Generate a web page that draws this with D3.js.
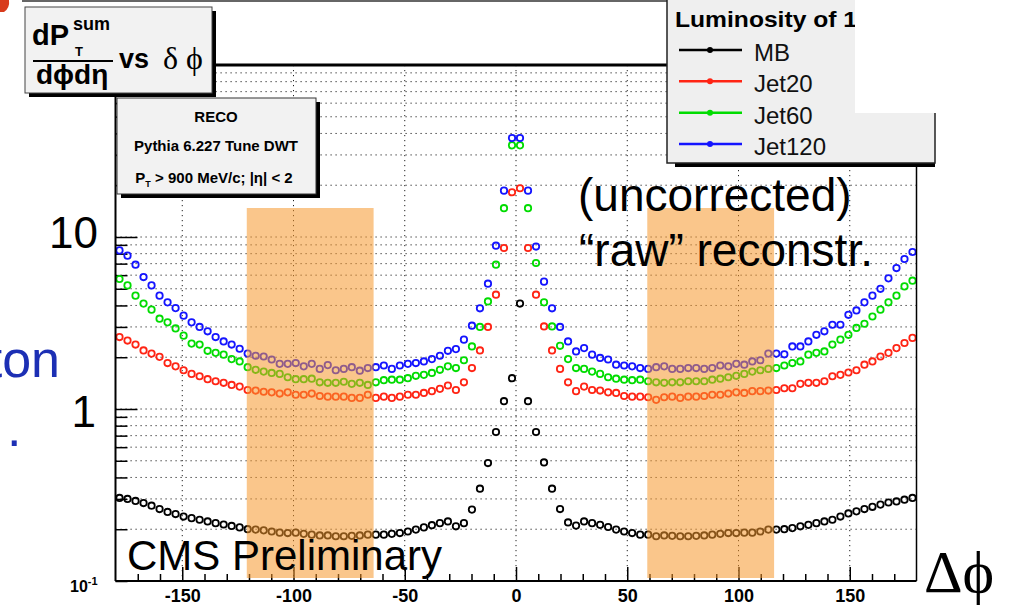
<!DOCTYPE html>
<html lang="en">
<head>
<meta charset="UTF-8">
<title>dPT sum vs delta phi</title>
<script src="https://cdn.jsdelivr.net/npm/d3@7"></script>
<style>
  body { margin: 0; background: #fff; }
  svg { display: block; font-family: Arial, "Liberation Sans", sans-serif; }
  .grid line { stroke: #222; stroke-width: 1; stroke-dasharray: 1.2,3.8; }
  .axis path { display: none; }
  .axis line { stroke: #000; stroke-width: 1.5; }
  .axis text { font-family: Arial, "Liberation Sans", sans-serif; }
</style>
</head>
<body>
<svg id="chart" width="1010" height="605"></svg>
<script>
// series, legend order
const seriesNames = ["MB", "Jet20", "Jet60", "Jet120"];
const seriesColors = ["#000000", "#ff2414", "#00dc00", "#1414ff"];

// 100 bins of 3.6 deg, centres -178.2 ... 178.2
const phiBins = d3.range(100).map(i => -178.2 + 3.6 * i);

const mbVals = [
  0.304, 0.300, 0.292, 0.284, 0.274, 0.262, 0.252, 0.245, 0.237, 0.232,
  0.227, 0.222, 0.217, 0.213, 0.209, 0.205, 0.200, 0.199, 0.197, 0.194,
  0.191, 0.190, 0.191, 0.188, 0.186, 0.184, 0.184, 0.182, 0.182, 0.183,
  0.184, 0.186, 0.186, 0.186, 0.188, 0.190, 0.194, 0.199, 0.205, 0.211,
  0.217, 0.222, 0.208, 0.217, 0.260, 0.344, 0.485, 0.735, 1.11, 1.51,
  4.10, 1.11, 0.735, 0.489, 0.344, 0.262, 0.219, 0.210, 0.222, 0.217,
  0.212, 0.206, 0.199, 0.194, 0.190, 0.186, 0.186, 0.182, 0.184, 0.183,
  0.182, 0.182, 0.183, 0.184, 0.186, 0.188, 0.190, 0.190, 0.191, 0.191,
  0.194, 0.199, 0.199, 0.200, 0.203, 0.208, 0.212, 0.217, 0.222, 0.227,
  0.237, 0.247, 0.254, 0.262, 0.270, 0.278, 0.286, 0.290, 0.297, 0.304
];
const jet20Vals = [
  2.62, 2.50, 2.37, 2.19, 2.10, 2.01, 1.85, 1.77, 1.68, 1.60,
  1.55, 1.49, 1.45, 1.42, 1.38, 1.35, 1.29, 1.28, 1.26, 1.25,
  1.23, 1.25, 1.21, 1.21, 1.23, 1.19, 1.18, 1.18, 1.18, 1.16,
  1.16, 1.21, 1.16, 1.18, 1.16, 1.18, 1.21, 1.21, 1.24, 1.27,
  1.31, 1.37, 1.29, 1.43, 1.73, 2.19, 3.00, 4.62, 8.63, 18.2,
  19.2, 8.63, 4.62, 3.02, 2.19, 1.71, 1.43, 1.27, 1.35, 1.29,
  1.28, 1.25, 1.24, 1.19, 1.18, 1.18, 1.17, 1.13, 1.17, 1.18,
  1.16, 1.18, 1.18, 1.19, 1.21, 1.21, 1.23, 1.25, 1.24, 1.27,
  1.27, 1.28, 1.29, 1.32, 1.32, 1.40, 1.42, 1.42, 1.45, 1.55,
  1.58, 1.63, 1.68, 1.81, 1.89, 2.02, 2.12, 2.26, 2.42, 2.59
];
const jet60Vals = [
  5.70, 5.23, 4.56, 4.10, 3.78, 3.35, 3.19, 2.94, 2.67, 2.40,
  2.37, 2.18, 2.12, 2.07, 1.95, 1.89, 1.75, 1.69, 1.65, 1.62,
  1.60, 1.53, 1.49, 1.49, 1.50, 1.43, 1.42, 1.42, 1.44, 1.40,
  1.42, 1.38, 1.43, 1.47, 1.48, 1.48, 1.51, 1.56, 1.58, 1.62,
  1.69, 1.77, 1.73, 1.92, 2.31, 3.00, 4.22, 6.90, 14.7, 34.1,
  34.1, 14.7, 7.06, 4.17, 3.02, 2.33, 1.95, 1.73, 1.71, 1.65,
  1.60, 1.53, 1.50, 1.48, 1.47, 1.48, 1.45, 1.43, 1.42, 1.43,
  1.43, 1.45, 1.45, 1.45, 1.48, 1.50, 1.53, 1.56, 1.60, 1.65,
  1.68, 1.71, 1.73, 1.79, 1.85, 1.89, 2.07, 2.12, 2.16, 2.37,
  2.53, 2.70, 2.96, 3.13, 3.45, 3.78, 4.17, 4.56, 5.16, 5.57
];
const jet120Vals = [
  8.36, 7.79, 6.90, 5.85, 5.23, 4.56, 4.17, 3.86, 3.49, 3.19,
  3.00, 2.83, 2.62, 2.47, 2.37, 2.24, 2.10, 2.04, 2.02, 1.94,
  1.83, 1.83, 1.85, 1.77, 1.83, 1.71, 1.80, 1.68, 1.71, 1.75,
  1.67, 1.73, 1.75, 1.79, 1.71, 1.79, 1.83, 1.85, 1.89, 1.95,
  2.04, 2.18, 2.23, 2.53, 3.05, 3.85, 5.35, 8.90, 18.6, 37.6,
  37.6, 18.6, 8.80, 5.50, 3.85, 3.00, 2.47, 2.16, 2.26, 2.07,
  1.98, 1.94, 1.81, 1.79, 1.77, 1.73, 1.71, 1.75, 1.77, 1.71,
  1.71, 1.73, 1.73, 1.71, 1.73, 1.79, 1.77, 1.83, 1.81, 1.89,
  1.92, 2.10, 2.10, 2.08, 2.31, 2.31, 2.47, 2.70, 2.83, 3.09,
  3.09, 3.53, 3.74, 4.17, 4.56, 5.00, 5.75, 6.60, 7.45, 8.18
];
const seriesVals = [mbVals, jet20Vals, jet60Vals, jet120Vals];

const xMajorTicks = [-150, -100, -50, 0, 50, 100, 150];
const xMinorTicks = d3.range(-170, 180, 10).filter(d => d % 50 !== 0);
const bandRanges = [[-121, -64], [59, 116]];

const svg = d3.select("#chart");

const x = d3.scaleLinear().domain([-180, 180]).range([115.5, 916.5]);
const y = d3.scaleLog().domain([0.1, 100]).range([581, 65]);
const logTicks = y.ticks();

// top strip left over from the slide
svg.append("path").attr("d", "M0,0 H9 Q10,8 4,12 H0 Z").attr("fill", "#d83a1c");
svg.append("line").attr("x1", 22).attr("x2", 855).attr("y1", 1).attr("y2", 1)
  .attr("stroke", "#333").attr("stroke-width", 1.5);

// grid
const grid = svg.append("g").attr("class", "grid");
grid.selectAll(".hg").data(logTicks.filter(d => d > 0.1 && d < 100)).enter().append("line")
  .attr("x1", x(-180)).attr("x2", x(180)).attr("y1", d => y(d)).attr("y2", d => y(d));
grid.selectAll(".vg").data(xMajorTicks).enter().append("line")
  .attr("x1", d => x(d)).attr("x2", d => x(d)).attr("y1", y(100)).attr("y2", y(0.1));

// axis ticks (inside)
svg.append("g").attr("class", "axis").attr("transform", `translate(0,${y(0.1)})`)
  .call(d3.axisBottom(x).tickValues(xMinorTicks).tickSize(-7).tickFormat(""));
const xAx = svg.append("g").attr("class", "axis").attr("transform", `translate(0,${y(0.1)})`)
  .call(d3.axisBottom(x).tickValues(xMajorTicks).tickSize(-14).tickPadding(8).tickFormat(d => String(d)));
xAx.selectAll("text").attr("font-size", 18).attr("font-weight", "bold").attr("fill", "#000");

const yAx = svg.append("g").attr("class", "axis").attr("transform", `translate(${x(-180)},0)`)
  .call(d3.axisLeft(y).tickValues(logTicks.filter(d => d !== 100))
    .tickSize(0).tickFormat(""));
yAx.selectAll(".tick").append("line")
  .attr("x1", 0).attr("x2", d => (d === 1 || d === 10) ? 22 : 12)
  .attr("stroke", "#000").attr("stroke-width", 2);

// data points
seriesVals.forEach((vals, si) => {
  svg.append("g").selectAll("circle").data(vals).enter().append("circle")
    .attr("cx", (d, i) => x(phiBins[i]))
    .attr("cy", d => y(d))
    .attr("r", 3.2)
    .attr("fill", "none")
    .attr("stroke", seriesColors[si])
    .attr("stroke-width", 1.8);
});

// shaded Δφ regions
svg.append("g").selectAll("rect").data(bandRanges).enter().append("rect")
  .attr("x", d => x(d[0])).attr("width", d => x(d[1]) - x(d[0]))
  .attr("y", 208).attr("height", 370)
  .attr("fill", "rgb(246,152,44)").attr("fill-opacity", 0.55);

// frame
const frame = svg.append("g").attr("stroke", "#000").attr("fill", "none");
frame.append("line").attr("x1", x(-180)).attr("x2", x(-180)).attr("y1", y(100)).attr("y2", y(0.1)).attr("stroke-width", 2);
frame.append("line").attr("x1", x(-180)).attr("x2", x(180)).attr("y1", y(0.1)).attr("y2", y(0.1)).attr("stroke-width", 2);
frame.append("line").attr("x1", x(180)).attr("x2", x(180)).attr("y1", y(100)).attr("y2", y(0.1)).attr("stroke-width", 1.5);
frame.append("line").attr("x1", x(-180)).attr("x2", x(180)).attr("y1", y(100)).attr("y2", y(100)).attr("stroke-width", 3);

// y labels
const big = svg.append("g").attr("font-family", "Arial, 'Liberation Sans', sans-serif").attr("fill", "#000");
big.append("text").attr("x", 98).attr("y", 248).attr("text-anchor", "end").attr("font-size", 44).text("10");
big.append("text").attr("x", 96).attr("y", 427).attr("text-anchor", "end").attr("font-size", 44).text("1");
const tenm1 = big.append("text").attr("x", 70).attr("y", 592).attr("font-size", 16).attr("font-weight", "bold");
tenm1.append("tspan").text("10");
tenm1.append("tspan").attr("dy", -7).attr("font-size", 11).text("-1");

// slide text (cut by the page edge, as on the slide)
big.append("text").attr("x", 60).attr("y", 377).attr("text-anchor", "end").attr("font-size", 52).attr("fill", "#1c2fb4").text("ton");
big.append("text").attr("x", 7).attr("y", 446).attr("font-size", 52).attr("fill", "#1c2fb4").text(".");
big.append("text").attr("x", 578).attr("y", 211).attr("font-size", 46).text("(uncorrected)");
big.append("text").attr("x", 579).attr("y", 266).attr("font-size", 46).text("\u201craw\u201d reconstr.");
big.append("text").attr("x", 127).attr("y", 570).attr("font-size", 42).text("CMS Preliminary");
svg.append("text").attr("x", 924).attr("y", 592).attr("font-family", "'Liberation Serif', 'DejaVu Serif', serif")
  .attr("font-size", 60).text("\u0394\u03d5");

// title box
const tb = svg.append("g");
tb.append("rect").attr("x", 29).attr("y", 11).attr("width", 187).attr("height", 86).attr("fill", "#000");
tb.append("rect").attr("x", 25).attr("y", 7).attr("width", 187).attr("height", 86).attr("fill", "#f2f2f2").attr("stroke", "#444");
tb.append("text").attr("x", 32).attr("y", 45).attr("font-size", 29).attr("font-weight", "bold").text("dP");
tb.append("text").attr("x", 73).attr("y", 30).attr("font-size", 18).attr("font-weight", "bold").text("sum");
tb.append("text").attr("x", 75).attr("y", 56).attr("font-size", 13).attr("font-weight", "bold").text("T");
tb.append("line").attr("x1", 33).attr("x2", 113).attr("y1", 61).attr("y2", 61).attr("stroke", "#000").attr("stroke-width", 2);
tb.append("text").attr("x", 36).attr("y", 84).attr("font-size", 28).attr("font-weight", "bold").text("d\u03d5d\u03b7");
tb.append("text").attr("x", 119).attr("y", 68).attr("font-size", 27).attr("font-weight", "bold").text("vs");
tb.append("text").attr("x", 163).attr("y", 69).attr("font-size", 32)
  .attr("font-family", "'Liberation Serif', 'DejaVu Serif', serif").text("\u03b4 \u03d5");

// RECO box
const rb = svg.append("g").attr("font-weight", "bold").attr("font-size", 15).attr("text-anchor", "middle");
rb.append("rect").attr("x", 121).attr("y", 102).attr("width", 199).attr("height", 96).attr("fill", "#000");
rb.append("rect").attr("x", 117).attr("y", 98).attr("width", 199).attr("height", 96).attr("fill", "#f2f2f2").attr("stroke", "#333");
rb.append("text").attr("x", 216).attr("y", 122).text("RECO");
rb.append("text").attr("x", 216).attr("y", 151).text("Pythia 6.227 Tune DWT");
const pt = rb.append("text").attr("x", 214).attr("y", 183);
pt.append("tspan").text("P");
pt.append("tspan").attr("dy", 4).attr("font-size", 9).text("T");
pt.append("tspan").attr("dy", -4).text(" > 900 MeV/c; |\u03b7| < 2");

// legend
const lg = svg.append("g");
lg.append("rect").attr("x", 675).attr("y", 163).attr("width", 260).attr("height", 4).attr("fill", "#000");
lg.append("rect").attr("x", 667).attr("y", -2).attr("width", 268).attr("height", 165)
  .attr("fill", "#efefef").attr("stroke", "#222").attr("stroke-width", 1.5);
lg.append("text").attr("x", 675).attr("y", 27).attr("font-size", 22).attr("font-weight", "bold")
  .attr("textLength", 182).attr("lengthAdjust", "spacingAndGlyphs").text("Luminosity of 1");
const legendY = d3.scalePoint().domain(seriesNames).range([50, 144]);
const entry = lg.selectAll(".entry").data(seriesNames).enter().append("g")
  .attr("transform", d => `translate(0,${legendY(d)})`);
entry.append("line").attr("x1", 679).attr("x2", 742)
  .attr("stroke", (d, i) => seriesColors[i]).attr("stroke-width", 2.5);
entry.append("circle").attr("cx", 710).attr("r", 3).attr("fill", (d, i) => seriesColors[i]);
entry.append("text").attr("x", 754).attr("y", 11).attr("font-size", 24).attr("fill", "#111").text(d => d);
// slide element covering the legend corner
svg.append("rect").attr("x", 855).attr("y", 0).attr("width", 155).attr("height", 113).attr("fill", "#fff");
</script>
</body>
</html>
